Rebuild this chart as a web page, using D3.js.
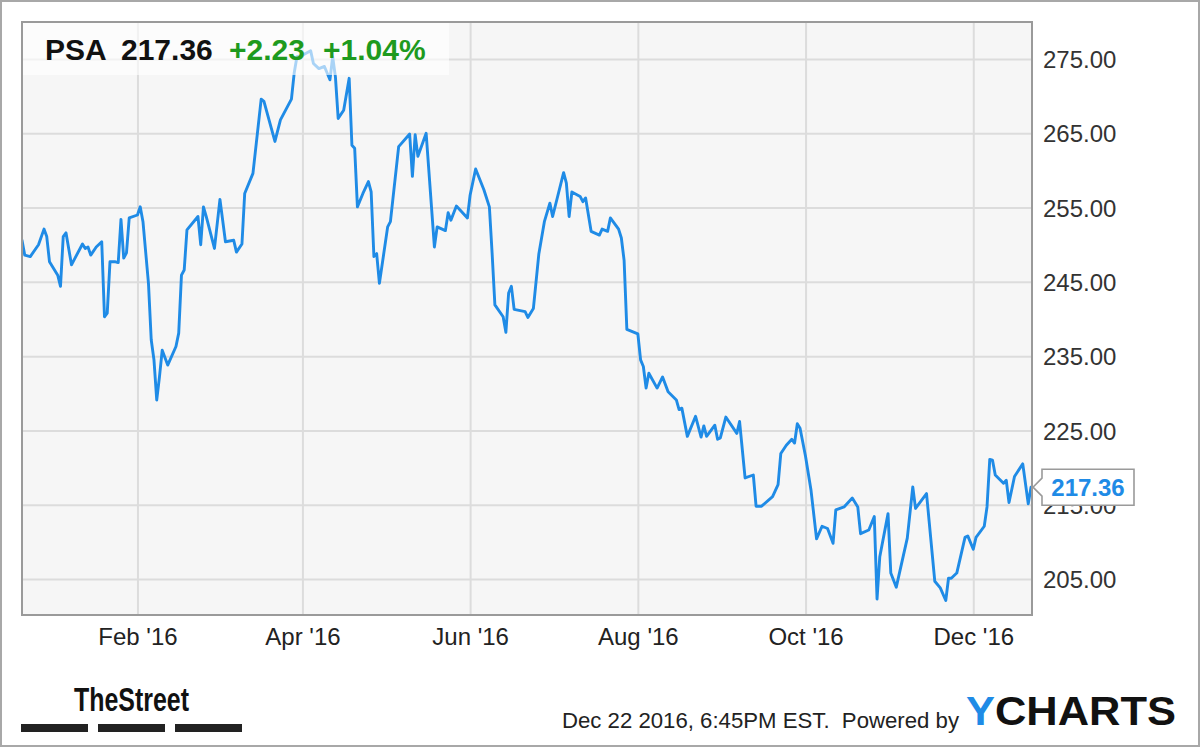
<!DOCTYPE html>
<html>
<head>
<meta charset="utf-8">
<script src="https://cdn.jsdelivr.net/npm/d3@7"></script>
<style>
  html, body { margin: 0; padding: 0; background: #fff; }
  svg { display: block; font-family: "Liberation Sans", Arial, Helvetica, sans-serif; }
</style>
</head>
<body>
<svg id="chart" width="1200" height="747"></svg>
<script>
// ---- data ----
const ticker = "PSA";
const lastPrice = "217.36";
const change = "+2.23";
const changePct = "+1.04%";
const footerText = "Dec 22 2016, 6:45PM EST.  Powered by";

const dates = [
  "2015-12-21","2015-12-22","2015-12-24","2015-12-27","2015-12-29","2015-12-30","2015-12-31",
  "2016-01-03","2016-01-04","2016-01-05","2016-01-06","2016-01-08","2016-01-09","2016-01-12",
  "2016-01-13","2016-01-14","2016-01-15","2016-01-17","2016-01-19","2016-01-20","2016-01-21",
  "2016-01-22","2016-01-24","2016-01-25","2016-01-26","2016-01-27","2016-01-28","2016-01-29",
  "2016-02-01","2016-02-02","2016-02-03","2016-02-05","2016-02-06","2016-02-07","2016-02-08",
  "2016-02-09","2016-02-10","2016-02-12","2016-02-15","2016-02-16","2016-02-17","2016-02-18",
  "2016-02-19","2016-02-23","2016-02-24","2016-02-25","2016-02-26","2016-02-29","2016-03-02",
  "2016-03-04","2016-03-07","2016-03-08","2016-03-10","2016-03-11","2016-03-14","2016-03-17",
  "2016-03-18","2016-03-22","2016-03-24","2016-03-28","2016-03-29","2016-03-30","2016-04-01",
  "2016-04-04","2016-04-05","2016-04-07","2016-04-09","2016-04-11","2016-04-12","2016-04-13",
  "2016-04-14","2016-04-16","2016-04-18","2016-04-19","2016-04-20","2016-04-21","2016-04-23",
  "2016-04-25","2016-04-26","2016-04-27","2016-04-28","2016-04-29","2016-05-02","2016-05-03",
  "2016-05-06","2016-05-10","2016-05-11","2016-05-12","2016-05-13","2016-05-16","2016-05-19",
  "2016-05-20","2016-05-23","2016-05-24","2016-05-25","2016-05-27","2016-05-31","2016-06-01",
  "2016-06-03","2016-06-06","2016-06-08","2016-06-09","2016-06-10","2016-06-13","2016-06-14",
  "2016-06-15","2016-06-16","2016-06-17","2016-06-21","2016-06-22","2016-06-24","2016-06-26",
  "2016-06-28","2016-06-30","2016-07-01","2016-07-05","2016-07-06","2016-07-07","2016-07-08",
  "2016-07-11","2016-07-12","2016-07-13","2016-07-15","2016-07-18","2016-07-19","2016-07-21",
  "2016-07-22","2016-07-25","2016-07-26","2016-07-27","2016-07-28","2016-08-01","2016-08-02",
  "2016-08-03","2016-08-04","2016-08-05","2016-08-08","2016-08-10","2016-08-12","2016-08-15",
  "2016-08-16","2016-08-17","2016-08-19","2016-08-22","2016-08-24","2016-08-25","2016-08-26",
  "2016-08-29","2016-08-30","2016-08-31","2016-09-02","2016-09-06","2016-09-07","2016-09-09",
  "2016-09-12","2016-09-13","2016-09-15","2016-09-19","2016-09-21","2016-09-22","2016-09-24",
  "2016-09-26","2016-09-27","2016-09-28","2016-09-29","2016-10-01","2016-10-03","2016-10-05",
  "2016-10-07","2016-10-09","2016-10-11","2016-10-12","2016-10-15","2016-10-18","2016-10-20",
  "2016-10-21","2016-10-24","2016-10-26","2016-10-27","2016-10-28","2016-10-31","2016-11-01",
  "2016-11-03","2016-11-07","2016-11-09","2016-11-10","2016-11-14","2016-11-17","2016-11-19",
  "2016-11-21","2016-11-22","2016-11-23","2016-11-25","2016-11-28","2016-11-29","2016-12-01",
  "2016-12-02","2016-12-05","2016-12-06","2016-12-07","2016-12-08","2016-12-09","2016-12-12",
  "2016-12-13","2016-12-14","2016-12-16","2016-12-19","2016-12-21","2016-12-22"
];
const closes = [
  250.6,248.6,248.4,250.0,252.1,251.1,247.7,
  245.9,244.4,251.1,251.6,247.3,248.0,250.1,
  249.5,249.7,248.6,249.7,250.4,240.3,240.8,
  247.7,247.7,247.6,253.4,248.2,248.9,253.6,
  254.0,255.1,253.1,244.8,237.2,234.5,229.1,
  232.2,235.8,233.8,236.3,238.1,245.9,246.6,
  252.0,253.8,250.0,255.1,253.8,249.5,256.1,
  250.4,250.6,249.0,250.1,256.9,259.6,269.6,
  269.3,263.9,266.8,269.6,273.1,275.3,275.5,
  276.1,274.4,273.7,274.0,272.2,275.3,272.6,
  267.0,268.1,272.4,263.4,263.0,255.1,256.9,
  258.5,257.1,248.4,248.8,244.8,252.4,253.1,
  263.2,264.9,259.2,264.8,261.9,265.0,249.7,
  252.4,251.9,254.3,253.3,255.2,253.6,256.7,
  260.2,257.4,255.1,248.8,241.9,240.3,238.2,
  243.5,244.4,241.3,241.0,240.2,241.4,248.8,
  253.1,255.6,253.8,259.7,258.3,253.8,257.1,
  256.5,255.8,256.3,251.8,251.3,252.1,251.8,
  253.6,252.1,250.9,247.9,238.6,238.0,234.5,
  233.6,230.7,232.7,230.7,232.2,230.2,229.1,
  227.8,228.0,224.2,226.9,224.1,225.6,224.2,
  225.7,223.8,224.0,226.8,224.6,226.2,218.6,
  219.0,214.8,214.8,216.1,217.7,221.9,223.0,
  223.8,223.3,225.9,225.3,221.5,216.9,210.4,
  212.1,211.8,209.8,214.3,214.7,215.9,214.7,
  211.1,211.6,213.4,202.3,208.0,213.8,205.8,
  203.9,210.5,217.4,214.5,216.5,204.7,203.8,
  202.1,205.1,205.1,205.8,210.6,210.8,209.0,
  210.6,212.1,214.7,221.1,221.0,219.0,217.9,
  218.3,215.3,218.8,220.5,215.13,217.36
];
const yTicks = [205, 215, 225, 235, 245, 255, 265, 275];
const xTicks = ["2016-02-01","2016-04-01","2016-06-01","2016-08-01","2016-10-01","2016-12-01"];
const xDomain = ["2015-12-21","2016-12-22"];
const yDomain = [205, 275];

// ---- layout ----
const W = 1200, H = 747;
const plot = { left: 22, top: 22, right: 1032, bottom: 615 };
const parse = d3.utcParse("%Y-%m-%d");
const series = dates.map((d, i) => ({ date: parse(d), value: closes[i] }));

const x = d3.scaleUtc().domain(xDomain.map(parse)).range([22, 1031]);
const y = d3.scaleLinear().domain(yDomain).range([579, 59]);

const svg = d3.select("#chart");

// outer frame
svg.append("rect").attr("x", 1).attr("y", 1).attr("width", W - 2).attr("height", H - 2)
  .attr("fill", "#fff").attr("stroke", "#a8a8a8").attr("stroke-width", 2);

// plot background
svg.append("rect").attr("x", plot.left).attr("y", plot.top)
  .attr("width", plot.right - plot.left).attr("height", plot.bottom - plot.top)
  .attr("fill", "#f6f6f6");

// horizontal gridlines
const yGrid = svg.append("g").attr("transform", `translate(${plot.left},0)`)
  .call(d3.axisRight(y).tickValues(yTicks).tickSize(plot.right - plot.left).tickFormat(""));
yGrid.select(".domain").remove();
yGrid.selectAll("line").attr("stroke", "#dcdcdc").attr("stroke-width", 2);

// vertical gridlines
const xGrid = svg.append("g").attr("transform", `translate(0,${plot.bottom})`)
  .call(d3.axisTop(x).tickValues(xTicks.map(parse)).tickSize(plot.bottom - plot.top).tickFormat(""));
xGrid.select(".domain").remove();
xGrid.selectAll("line").attr("stroke", "#dcdcdc").attr("stroke-width", 2);

// clip
svg.append("clipPath").attr("id", "clip").append("rect")
  .attr("x", plot.left).attr("y", plot.top)
  .attr("width", plot.right - plot.left).attr("height", plot.bottom - plot.top);

// price line
svg.append("path").datum(series)
  .attr("clip-path", "url(#clip)")
  .attr("fill", "none").attr("stroke", "#1f8be6").attr("stroke-width", 2.9)
  .attr("stroke-linejoin", "round").attr("stroke-linecap", "round")
  .attr("d", d3.line().x(d => x(d.date)).y(d => y(d.value)));

// plot border
svg.append("rect").attr("x", plot.left).attr("y", plot.top)
  .attr("width", plot.right - plot.left).attr("height", plot.bottom - plot.top)
  .attr("fill", "none").attr("stroke", "#9a9a9a").attr("stroke-width", 2);

// header box
svg.append("rect").attr("x", plot.left + 1).attr("y", plot.top + 1)
  .attr("width", 426).attr("height", 52).attr("fill", "#ffffff").attr("opacity", 0.62);
const head = svg.append("text").attr("y", 60).attr("font-size", 30).attr("font-weight", "bold");
head.append("tspan").attr("x", 45).attr("fill", "#111").text(ticker);
head.append("tspan").attr("x", 121).attr("fill", "#111").text(lastPrice);
head.append("tspan").attr("x", 229).attr("fill", "#1e9a1e").text(change);
head.append("tspan").attr("x", 323).attr("fill", "#1e9a1e").text(changePct);

// y axis labels
const yAxis = svg.append("g").attr("transform", `translate(${plot.right},0)`)
  .call(d3.axisRight(y).tickValues(yTicks).tickSize(0).tickPadding(11).tickFormat(d3.format(".2f")));
yAxis.select(".domain").remove();
yAxis.selectAll("text").attr("font-size", 24).attr("fill", "#333")
  .attr("font-family", "Liberation Sans, Arial, sans-serif").attr("dy", "0.36em");

// x axis labels
const xAxis = svg.append("g").attr("transform", `translate(0,${plot.bottom})`)
  .call(d3.axisBottom(x).tickValues(xTicks.map(parse)).tickSize(0).tickPadding(13)
    .tickFormat(d3.utcFormat("%b '%y")));
xAxis.select(".domain").remove();
xAxis.selectAll("text").attr("font-size", 24).attr("fill", "#222")
  .attr("font-family", "Liberation Sans, Arial, sans-serif");

// last value label
const last = series[series.length - 1];
const ly = y(last.value);
svg.append("path")
  .attr("d", `M1042,${ly - 18} L1134,${ly - 18} L1134,${ly + 18} L1042,${ly + 18} L1042,${ly + 9} L1033,${ly} L1042,${ly - 9} Z`)
  .attr("fill", "#fff").attr("stroke", "#9a9a9a").attr("stroke-width", 1.6);
svg.append("text").attr("x", 1088).attr("y", ly + 9).attr("text-anchor", "middle")
  .attr("font-size", 24).attr("font-weight", "bold").attr("fill", "#1f8be6")
  .text(d3.format(".2f")(last.value));

// footer: TheStreet logo
svg.append("text").attr("x", 74).attr("y", 711)
  .attr("font-family", "Liberation Sans Narrow, Arial Narrow, Liberation Sans, sans-serif")
  .attr("font-weight", "bold").attr("font-size", 34).attr("fill", "#111")
  .attr("textLength", 115).attr("lengthAdjust", "spacingAndGlyphs")
  .text("TheStreet");
[21, 98, 175].forEach(bx => {
  svg.append("rect").attr("x", bx).attr("y", 724).attr("width", 67).attr("height", 8).attr("fill", "#222");
});

// footer text
svg.append("text").attr("x", 562).attr("y", 728).attr("font-size", 22).attr("fill", "#222")
  .attr("textLength", 397).attr("lengthAdjust", "spacingAndGlyphs")
  .attr("xml:space", "preserve").style("white-space", "pre")
  .text(footerText);

// YCHARTS logo
const yc = svg.append("text").attr("x", 966).attr("y", 725).attr("font-size", 40)
  .attr("font-weight", "bold").attr("textLength", 210).attr("lengthAdjust", "spacingAndGlyphs");
yc.append("tspan").attr("fill", "#1f8be6").text("Y");
yc.append("tspan").attr("fill", "#111").text("CHARTS");
</script>
</body>
</html>
